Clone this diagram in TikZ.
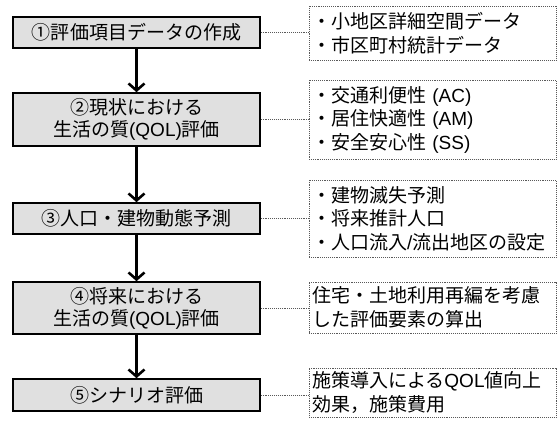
\documentclass[tikz,border=0pt]{standalone}
\usepackage{fontspec}
\setmainfont{Noto Sans CJK JP}
\newfontfamily\lat{Liberation Sans}
\usetikzlibrary{arrows.meta}
\tikzset{
  stepbox/.style={draw=black, line width=1.6bp, fill=black!12, minimum width=247bp, inner sep=0pt, align=center, font=\fontsize{19bp}{22bp}\selectfont},
  notebox/.style={draw=black!65, densely dotted, line width=0.9bp, minimum width=247bp, inner xsep=3bp, inner ysep=0pt, text width=241bp, align=left, font=\fontsize{19bp}{23.5bp}\selectfont},
  flow/.style={line width=2.6bp, -{Straight Barb[length=7bp,width=16bp,line width=2.6bp]}},
  link/.style={draw=black!65, densely dotted, line width=0.9bp}
}
\begin{document}
\begin{tikzpicture}[x=1bp,y=-1bp]
\useasboundingbox (0,0) rectangle (558,423);
% left step boxes
\node[stepbox, minimum height=31bp] (l1) at (136.5,32.5) {①評価項目データの作成};
\node[stepbox, minimum height=53bp] (l2) at (136.5,119.5) {②現状における\\生活の質{\lat(QOL)}評価};
\node[stepbox, minimum height=31bp] (l3) at (136.5,218.5) {③人口・建物動態予測};
\node[stepbox, minimum height=52bp] (l4) at (136.5,308) {④将来における\\生活の質{\lat(QOL)}評価};
\node[stepbox, minimum height=32bp] (l5) at (136.5,395) {⑤シナリオ評価};
% right note boxes
\node[notebox, minimum height=54bp] (r1) at (432.5,33) {・小地区詳細空間データ\\・市区町村統計データ};
\node[notebox, minimum height=79bp] (r2) at (432.5,119.5) {・交通利便性{\lat\ (AC)}\\・居住快適性{\lat\ (AM)}\\・安全安心性{\lat\ (SS)}};
\node[notebox, minimum height=77bp] (r3) at (432.5,218.5) {・建物滅失予測\\・将来推計人口\\・人口流入{\lat/}流出地区の設定};
\node[notebox, minimum height=51bp] (r4) at (432.5,307.5) {住宅・土地利用再編を考慮\\した評価要素の算出};
\node[notebox, minimum height=49bp] (r5) at (432.5,392.5) {施策導入による{\lat QOL}値向上\\効果，施策費用};
% flow arrows
\draw[flow] (l1) -- (l2);
\draw[flow] (l2) -- (l3);
\draw[flow] (l3) -- (l4);
\draw[flow] (l4) -- (l5);
% dotted links
\foreach \i in {1,...,5} {
  \draw[link] (l\i.east) -- (l\i.east -| r\i.west);
}
\end{tikzpicture}
\end{document}
